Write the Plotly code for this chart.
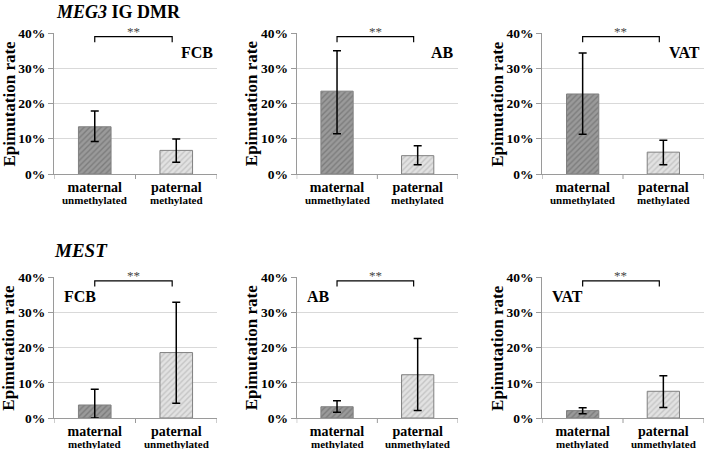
import plotly.graph_objects as go

W, H = 705, 449
SERIF = "Liberation Serif"

categories = ["maternal", "paternal"]
sublabels_top = ["unmethylated", "methylated"]
sublabels_bottom = ["methylated", "unmethylated"]
tissues = ["FCB", "AB", "VAT"]

# MEG3 IG DMR (top row)
meg3_values = [[0.134, 0.067], [0.235, 0.052], [0.227, 0.062]]
meg3_err_plus = [[0.045, 0.032], [0.115, 0.028], [0.116, 0.034]]
meg3_err_minus = [[0.042, 0.034], [0.121, 0.026], [0.114, 0.036]]

# MEST (bottom row)
mest_values = [[0.037, 0.186], [0.032, 0.123], [0.021, 0.076]]
mest_err_plus = [[0.045, 0.143], [0.017, 0.103], [0.008, 0.044]]
mest_err_minus = [[0.037, 0.144], [0.016, 0.102], [0.009, 0.046]]

significance = "**"
ytick_vals = [0, 0.1, 0.2, 0.3, 0.4]
ytick_text = ["0%", "10%", "20%", "30%", "40%"]

# pixel layout
col_px = [(54, 217), (296.7, 458), (542.3, 703.7)]
row_px = [(33, 174), (277.3, 418)]

fig = go.Figure()
bar_fill = [("#9a9a9a", "#5e5e5e"), ("#e2e2e2", "#a8a8a8")]


def b(s):
    return f"<b>{s}</b>"


ann = []
shapes = []
k = 0
for r, (vals, ep, em, subs) in enumerate([
        (meg3_values, meg3_err_plus, meg3_err_minus, sublabels_top),
        (mest_values, mest_err_plus, mest_err_minus, sublabels_bottom)]):
    for c in range(3):
        k += 1
        xa = "x" if k == 1 else f"x{k}"
        ya = "y" if k == 1 else f"y{k}"
        for i in range(2):
            fig.add_trace(go.Bar(
                x=[categories[i]], y=[vals[c][i]],
                xaxis=xa, yaxis=ya, width=0.4,
                marker=dict(color=bar_fill[i][0],
                            line=dict(color="#808080", width=1),
                            pattern=dict(shape="/", fgcolor=bar_fill[i][1],
                                         bgcolor=bar_fill[i][0], size=4, solidity=0.35)),
                error_y=dict(type="data", symmetric=False,
                             array=[ep[c][i]], arrayminus=[em[c][i]],
                             color="black", thickness=1.5, width=4),
                showlegend=False, hoverinfo="skip"))
        x0, x1 = col_px[c][0] / W, col_px[c][1] / W
        y0, y1 = 1 - row_px[r][1] / H, 1 - row_px[r][0] / H
        axkey = "xaxis" if k == 1 else f"xaxis{k}"
        aykey = "yaxis" if k == 1 else f"yaxis{k}"
        fig.layout[axkey] = dict(domain=[x0, x1], anchor=ya, type="category",
                                 categoryorder="array", categoryarray=categories,
                                 tickvals=categories, ticktext=[b(t) for t in categories],
                                 range=[-0.5, 1.5], showline=True, linecolor="#9a9a9a",
                                 linewidth=1, ticks="", showticklabels=True, automargin=False,
                                 tickfont=dict(family=SERIF, size=14, color="black"),
                                 showgrid=False, zeroline=False)
        fig.layout[aykey] = dict(domain=[y0, y1], anchor=xa, range=[0, 0.4],
                                 tickvals=ytick_vals, ticktext=[b(t) for t in ytick_text],
                                 automargin=False,
                                 tickfont=dict(family=SERIF, size=13.5, color="black"),
                                 showline=True, linecolor="#9a9a9a", linewidth=1,
                                 ticks="outside", ticklen=5, tickcolor="#9a9a9a",
                                 showgrid=True, gridcolor="#d9d9d9", gridwidth=1,
                                 zeroline=False, ticklabelstandoff=0)
        # category tick separators
        for xv in [-0.5, 0.5, 1.5]:
            shapes.append(dict(type="line", xref=xa, yref="paper", x0=xv, x1=xv,
                               y0=y0, y1=y0 - 5 / H, line=dict(color="#9a9a9a", width=1)))
        # sub labels
        for i in range(2):
            ann.append(dict(x=categories[i], y=y0 - 26 / H, xref=xa, yref="paper",
                            text=b(subs[i]), showarrow=False, yanchor="middle",
                            font=dict(family=SERIF, size=11, color="black")))
        # y-axis title
        ann.append(dict(x=(col_px[c][0] - 45) / W, y=(y0 + y1) / 2, xref="paper", yref="paper",
                        text=b("Epimutation rate"), textangle=-90, showarrow=False,
                        xanchor="center", yanchor="middle",
                        font=dict(family=SERIF, size=17, color="black")))
        # significance bracket
        by = 0.39
        shapes.append(dict(type="path", xref=xa, yref=ya,
                           path=f"M 0.0,{by-0.016} L 0.0,{by} L 0.95,{by} L 0.95,{by-0.016}",
                           line=dict(color="black", width=1.2)))
        ann.append(dict(x=0.475, y=by, xref=xa, yref=ya, text=significance, showarrow=False,
                        yanchor="bottom", yshift=-4,
                        font=dict(family=SERIF, size=13, color="#444444")))
        # tissue label
        if r == 0:
            ann.append(dict(x=1.5, y=0.345, xref=xa, yref=ya, text=b(tissues[c]), showarrow=False,
                            xanchor="right", yanchor="middle", xshift=-2,
                            font=dict(family=SERIF, size=16, color="black")))
        else:
            ann.append(dict(x=-0.5, y=0.345, xref=xa, yref=ya, text=b(tissues[c]), showarrow=False,
                            xanchor="left", yanchor="middle", xshift=8,
                            font=dict(family=SERIF, size=16, color="black")))

ann.append(dict(x=118.5 / W, y=1 - 12 / H, xref="paper", yref="paper",
                text=b("<i>MEG3</i> IG DMR"), showarrow=False, xanchor="center", yanchor="middle",
                font=dict(family=SERIF, size=18, color="black")))
ann.append(dict(x=80.5 / W, y=1 - 250 / H, xref="paper", yref="paper",
                text=b("<i>MEST</i>"), showarrow=False, xanchor="center", yanchor="middle",
                font=dict(family=SERIF, size=19, color="black")))

fig.update_layout(width=W, height=H, margin=dict(l=0, r=0, t=0, b=0),
                  font=dict(family=SERIF),
                  paper_bgcolor="white", plot_bgcolor="white",
                  annotations=ann, shapes=shapes, bargap=0.6)
fig.write_html("out.html", config={"displayModeBar": False},
               post_script="document.body.style.margin='0';")
